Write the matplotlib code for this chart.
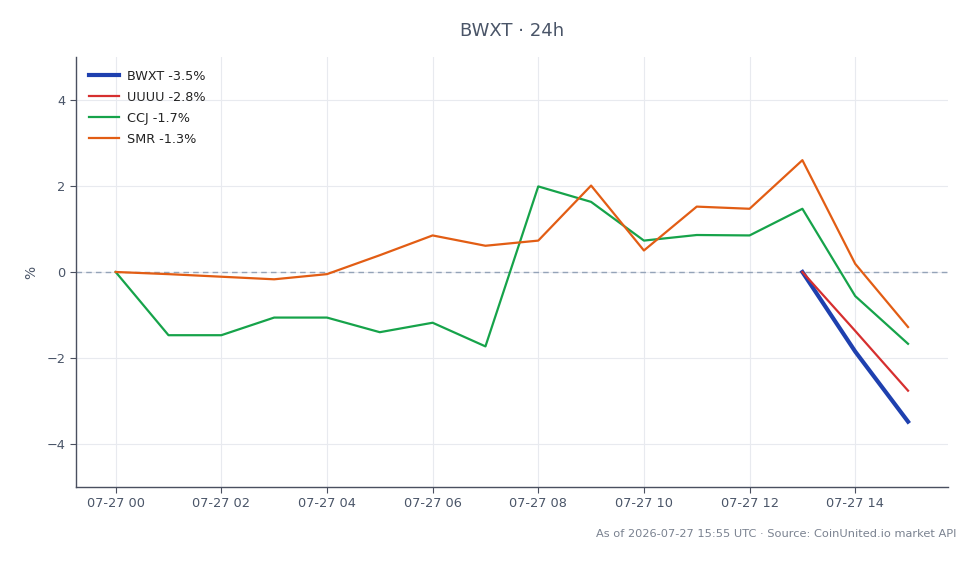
import matplotlib
matplotlib.use("Agg")
import matplotlib.pyplot as plt
import numpy as np

hours = list(range(16))
tick_hours = [0, 2, 4, 6, 8, 10, 12, 14]
tick_labels = ["07-27 00", "07-27 02", "07-27 04", "07-27 06",
               "07-27 08", "07-27 10", "07-27 12", "07-27 14"]

nan = np.nan
bwxt = [nan] * 13 + [0.0, -1.85, -3.48]
uuuu = [nan] * 13 + [0.0, -1.37, -2.76]
ccj = [0.0, -1.47, -1.47, -1.06, -1.06, -1.40, -1.18, -1.73,
       1.99, 1.63, 0.73, 0.86, 0.85, 1.47, -0.56, -1.67]
smr = [0.0, -0.05, -0.11, -0.17, -0.05, 0.39, 0.85, 0.61,
       0.73, 2.01, 0.50, 1.52, 1.47, 2.60, 0.19, -1.28]

series = [
    ("BWXT -3.5%", bwxt, "#1e40af", 3.0),
    ("UUUU -2.8%", uuuu, "#d62f2f", 1.6),
    ("CCJ -1.7%", ccj, "#16a34a", 1.6),
    ("SMR -1.3%", smr, "#e25d14", 1.6),
]

text_color = "#4a5568"

fig = plt.figure(figsize=(9.8, 5.64), dpi=100)
ax = fig.add_axes([0.0776, 0.1365, 0.8894, 0.7625])

ax.axhline(0, color="#94a3b8", lw=1.0, ls=(0, (4, 3)), zorder=1)
for label, vals, color, lw in series:
    ax.plot(hours, vals, color=color, lw=lw, label=label, zorder=3)

ax.set_xlim(-0.75, 15.75)
ax.set_ylim(-5, 5)
ax.set_yticks([-4, -2, 0, 2, 4])
ax.set_yticklabels(["\u22124", "\u22122", "0", "2", "4"])
ax.set_xticks(tick_hours)
ax.set_xticklabels(tick_labels)
ax.grid(True, color="#e8eaef", lw=0.8, zorder=0)
ax.set_axisbelow(True)

for s in ["top", "right"]:
    ax.spines[s].set_visible(False)
for s in ["left", "bottom"]:
    ax.spines[s].set_color("#4a5060")
    ax.spines[s].set_linewidth(1.0)
ax.tick_params(colors=text_color, labelsize=9.3, length=4, color="#4a5060")

ax.set_ylabel("%", color=text_color, fontsize=10, labelpad=6)
ax.set_title("BWXT \u00b7 24h", color=text_color, fontsize=13, pad=15)

leg = ax.legend(loc="upper left", frameon=False, fontsize=9.2,
                handlelength=2.4, handletextpad=0.6, labelspacing=0.62,
                borderaxespad=0.6)
for t in leg.get_texts():
    t.set_color("#222222")

fig.text(0.976, 0.054, "As of 2026-07-27 15:55 UTC \u00b7 Source: CoinUnited.io market API",
         ha="right", va="center", fontsize=8.2, color="#7a8290")

fig.savefig("out.png", dpi=100)
